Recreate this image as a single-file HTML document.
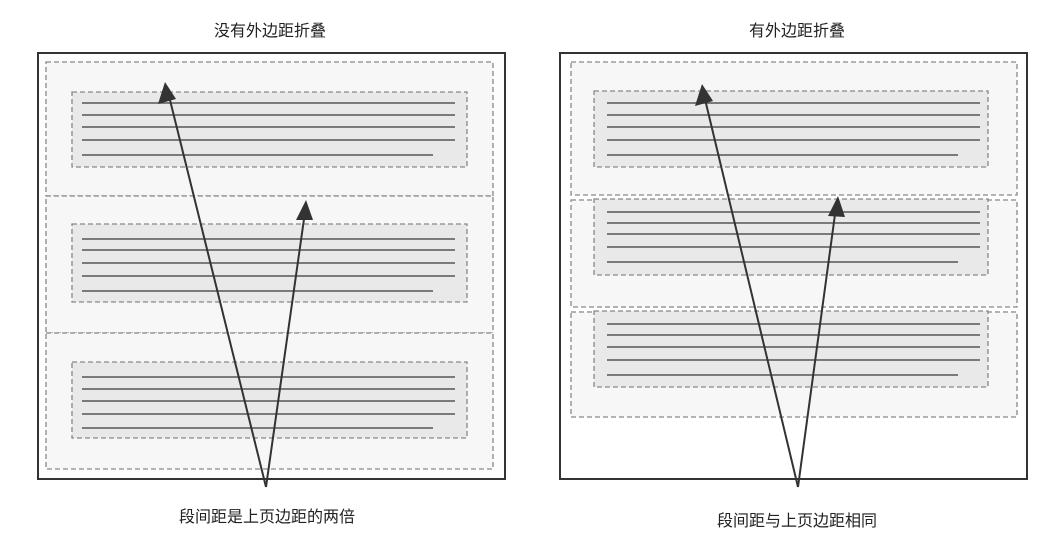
<!DOCTYPE html>
<html><head><meta charset="utf-8"><style>
body{margin:0;background:#fff;}
svg{display:block;}
text{font-family:"Liberation Sans","Noto Sans CJK SC",sans-serif;font-size:16px;fill:#222;}
</style></head><body>
<svg width="1063" height="545" viewBox="0 0 1063 545" xmlns="http://www.w3.org/2000/svg">
<text x="270" y="36" text-anchor="middle">没有外边距折叠</text>
<text x="797" y="36" text-anchor="middle">有外边距折叠</text>
<text x="267" y="522" text-anchor="middle">段间距是上页边距的两倍</text>
<text x="797" y="526" text-anchor="middle">段间距与上页边距相同</text>

<!-- LEFT -->
<rect x="38" y="53" width="467" height="426" fill="#fdfdfd" stroke="#333" stroke-width="2"/>
<g fill="#f7f7f7" stroke="#888" stroke-width="1.3" stroke-dasharray="5,3">
<rect x="46" y="62" width="447" height="134"/>
<rect x="46" y="196" width="447" height="137"/>
<rect x="46" y="333" width="447" height="136"/>
</g>
<g fill="#e9e9e9" stroke="#888" stroke-width="1.3" stroke-dasharray="5,3">
<rect x="72" y="92" width="395" height="75"/>
<rect x="72" y="224" width="395" height="78"/>
<rect x="72" y="362" width="395" height="76"/>
</g>
<g stroke="#555" stroke-width="1.6">
<line x1="82" y1="103" x2="455" y2="103"/><line x1="82" y1="115" x2="455" y2="115"/><line x1="82" y1="127" x2="455" y2="127"/><line x1="82" y1="140" x2="455" y2="140"/><line x1="82" y1="155" x2="433" y2="155"/>
<line x1="82" y1="239" x2="455" y2="239"/><line x1="82" y1="250" x2="455" y2="250"/><line x1="82" y1="263" x2="455" y2="263"/><line x1="82" y1="276" x2="455" y2="276"/><line x1="82" y1="291" x2="433" y2="291"/>
<line x1="82" y1="377" x2="455" y2="377"/><line x1="82" y1="389" x2="455" y2="389"/><line x1="82" y1="401" x2="455" y2="401"/><line x1="82" y1="414" x2="455" y2="414"/><line x1="82" y1="428" x2="433" y2="428"/>
</g>

<!-- RIGHT -->
<rect x="560" y="53" width="467" height="426" fill="#fff" stroke="#333" stroke-width="2"/>
<g fill="#f7f7f7" stroke="#888" stroke-width="1.3" stroke-dasharray="5,3">
<rect x="571" y="62" width="446" height="133"/>
<rect x="571" y="200" width="446" height="107"/>
<rect x="571" y="312" width="446" height="105"/>
</g>
<g fill="#e9e9e9" stroke="#888" stroke-width="1.3" stroke-dasharray="5,3">
<rect x="594" y="91" width="394" height="76"/>
<rect x="594" y="199" width="394" height="76"/>
<rect x="594" y="311" width="394" height="76"/>
</g>
<g stroke="#555" stroke-width="1.6">
<line x1="607" y1="103" x2="980" y2="103"/><line x1="607" y1="115" x2="980" y2="115"/><line x1="607" y1="127" x2="980" y2="127"/><line x1="607" y1="140" x2="980" y2="140"/><line x1="607" y1="155" x2="958" y2="155"/>
<line x1="607" y1="212" x2="980" y2="212"/><line x1="607" y1="223" x2="980" y2="223"/><line x1="607" y1="234" x2="980" y2="234"/><line x1="607" y1="247" x2="980" y2="247"/><line x1="607" y1="262" x2="958" y2="262"/>
<line x1="607" y1="324" x2="980" y2="324"/><line x1="607" y1="335" x2="980" y2="335"/><line x1="607" y1="347" x2="980" y2="347"/><line x1="607" y1="360" x2="980" y2="360"/><line x1="607" y1="375" x2="958" y2="375"/>
</g>

<!-- arrows -->
<g stroke="#333" stroke-width="2" fill="none">
<line x1="266" y1="487" x2="168" y2="92"/>
<line x1="266" y1="487" x2="305" y2="212"/>
<line x1="798" y1="487" x2="704" y2="95"/>
<line x1="798" y1="487" x2="836" y2="207"/>
</g>
<g fill="#333">
<polygon points="165,82 158,104 176,99"/>
<polygon points="306,200 296,220 313,220"/>
<polygon points="702,84 695,106 713,101"/>
<polygon points="838,196 828,216 845,217"/>
</g>
</svg>
</body></html>
